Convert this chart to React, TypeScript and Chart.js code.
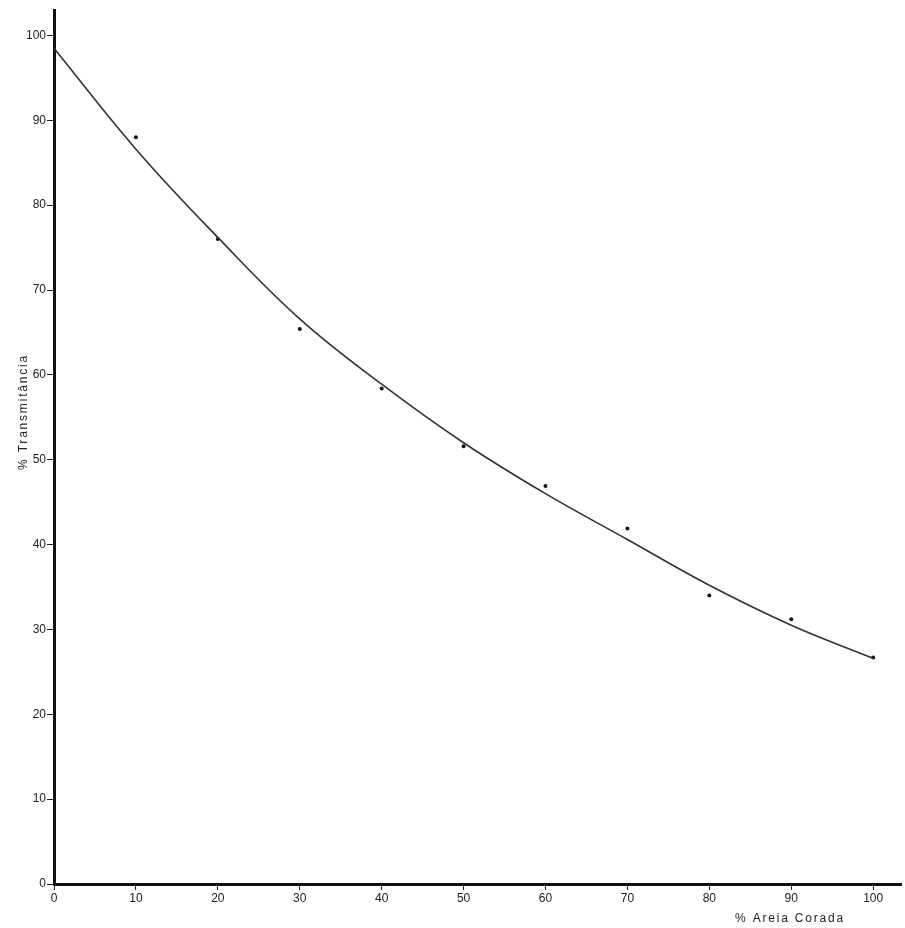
import React, { useEffect, useRef } from "react";
import { Chart, registerables } from "chart.js";

Chart.register(...registerables);

const xTicks = [0, 10, 20, 30, 40, 50, 60, 70, 80, 90, 100];
const yTicks = [0, 10, 20, 30, 40, 50, 60, 70, 80, 90, 100];

const sampleX = [0, 10, 20, 30, 40, 50, 60, 70, 80, 90, 100];
const sampleY = [98.5, 88.0, 76.0, 65.4, 58.4, 51.6, 46.9, 41.9, 34.0, 31.2, 26.7];

const curveX = [0, 10, 20, 30, 40, 50, 60, 70, 80, 90, 100];
const curveY = [98.5, 86.6, 76.2, 66.6, 58.9, 52.0, 46.0, 40.6, 35.2, 30.5, 26.6];

const xTitle = "% Areia Corada";
const yTitle = "% Transmitância";

export default function App() {
  const ref = useRef<HTMLCanvasElement | null>(null);

  useEffect(() => {
    const canvas = ref.current;
    if (!canvas) return;

    const bgPlugin = {
      id: "bg",
      beforeDraw(chart: any) {
        const { ctx, width, height } = chart;
        ctx.save();
        ctx.fillStyle = "#ffffff";
        ctx.fillRect(0, 0, width, height);
        ctx.restore();
      },
    };

    const titlesPlugin = {
      id: "titles",
      afterDraw(chart: any) {
        const ctx = chart.ctx;
        ctx.save();
        ctx.fillStyle = "#222";
        ctx.font = "12px 'Liberation Sans', 'DejaVu Sans', sans-serif";
        try {
          (ctx as any).letterSpacing = "1.8px";
        } catch (e) {}
        ctx.textAlign = "center";
        ctx.textBaseline = "middle";
        ctx.fillText(xTitle, 790, 919);
        ctx.translate(24, 412);
        ctx.rotate(-Math.PI / 2);
        ctx.fillText(yTitle, 0, 0);
        ctx.restore();
      },
    };

    const chart = new Chart(canvas, {
      type: "scatter",
      data: {
        datasets: [
          {
            type: "line",
            label: "curve",
            data: curveX.map((x, i) => ({ x, y: curveY[i] })),
            borderColor: "#333",
            borderWidth: 1.6,
            pointRadius: 0,
            fill: false,
            tension: 0.4,
          } as any,
          {
            label: "points",
            data: sampleX.map((x, i) => ({ x, y: sampleY[i] })),
            backgroundColor: "#111",
            borderColor: "#111",
            pointRadius: 2,
            borderWidth: 0,
          },
        ],
      },
      plugins: [bgPlugin, titlesPlugin],
      options: {
        animation: false,
        responsive: false,
        maintainAspectRatio: false,
        layout: { padding: { top: 10, right: 0, left: 0, bottom: 0 } },
        plugins: {
          legend: { display: false },
          tooltip: { enabled: false },
        },
        scales: {
          x: {
            type: "linear",
            min: 0,
            max: 103.4,
            afterBuildTicks(scale: any) {
              scale.ticks = xTicks.map((v) => ({ value: v }));
            },
            afterFit(scale: any) {
              scale.height = 44;
            },
            border: { display: true, color: "#111", width: 3 },
            grid: {
              display: true,
              drawOnChartArea: false,
              drawTicks: true,
              tickLength: 6,
              color: "#222",
              lineWidth: 1,
            },
            ticks: {
              color: "#222",
              font: { size: 12, family: "'Liberation Sans', 'DejaVu Sans', sans-serif" },
              padding: 1,
              maxRotation: 0,
              autoSkip: false,
            },
          },
          y: {
            type: "linear",
            min: 0,
            max: 103,
            afterBuildTicks(scale: any) {
              scale.ticks = yTicks.map((v) => ({ value: v }));
            },
            afterFit(scale: any) {
              scale.width = 54;
            },
            border: { display: true, color: "#111", width: 3 },
            grid: {
              display: true,
              drawOnChartArea: false,
              drawTicks: true,
              tickLength: 7,
              color: "#222",
              lineWidth: 1,
            },
            ticks: {
              color: "#222",
              font: { size: 12, family: "'Liberation Sans', 'DejaVu Sans', sans-serif" },
              padding: 1,
              autoSkip: false,
            },
          },
        },
      },
    });

    return () => chart.destroy();
  }, []);

  return (
    <div style={{ position: "fixed", left: 0, top: 0, width: 905, height: 928, background: "#fff" }}>
      <canvas ref={ref} width={905} height={928} style={{ display: "block", width: 905, height: 928 }} />
    </div>
  );
}
